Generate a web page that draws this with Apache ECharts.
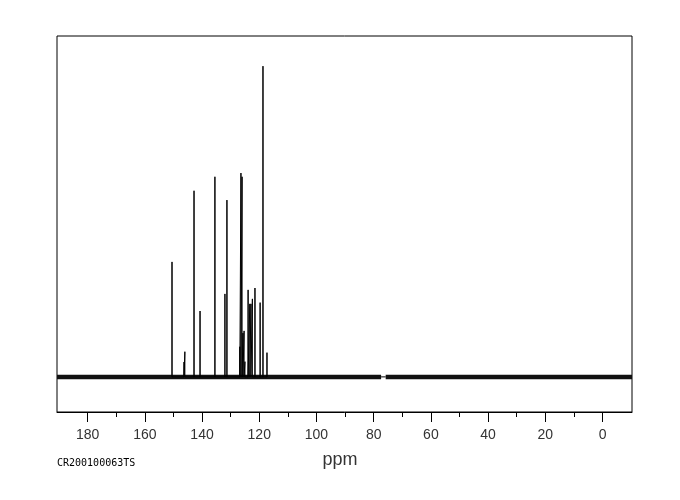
<!DOCTYPE html>
<html>
<head>
<meta charset="utf-8">
<script src="https://cdn.jsdelivr.net/npm/echarts@6/dist/echarts.min.js"></script>
<style>
html,body{margin:0;padding:0;background:#fff;}
#chart{width:680px;height:500px;}
</style>
</head>
<body>
<div id="chart"></div>
<script>
// Peak positions (ppm) and relative intensities (tallest = 100)
var peakPpm = [150.5, 146.3, 146.0, 142.8, 140.7, 135.5, 132.0, 131.3, 126.8, 126.4, 126.0, 125.7, 125.3, 125.0, 123.9, 123.3, 122.9, 122.4, 121.5, 119.7, 118.7, 117.3];
var peakHeight = [37.0, 4.8, 8.1, 59.9, 21.2, 64.4, 26.7, 56.9, 9.7, 65.6, 64.4, 14.1, 14.8, 4.9, 28.0, 23.5, 23.5, 25.1, 28.6, 23.9, 100, 7.8];
// baseline segments (ppm ranges), with the removed solvent region between them
var baselineLeft = [190.7, 77.4];
var baselineRight = [75.8, -10.3];
var gapRange = [77.4, 75.8];
var majorTicks = [0, 20, 40, 60, 80, 100, 120, 140, 160, 180];
var minorTicks = [10, 30, 50, 70, 90, 110, 130, 150, 170];
var xRange = [-10.3, 190.7];
var yRange = [-11.3, 109.7];
var xTitle = 'ppm';
var sampleId = 'CR200100063TS';

var peakData = [];
for (var i = 0; i < peakPpm.length; i++) {
  peakData.push([peakPpm[i], 0]);
  peakData.push([peakPpm[i], peakHeight[i]]);
  peakData.push([peakPpm[i], 0]);
}

var chart = echarts.init(document.getElementById('chart'), null, {renderer: 'canvas'});
var option = {
  animation: false,
  backgroundColor: '#fff',
  grid: {left: 57, right: 48, top: 36, bottom: 88, show: true, borderColor: '#000', borderWidth: 1, backgroundColor: 'transparent'},
  xAxis: [{
    type: 'value', inverse: true, min: xRange[0], max: xRange[1], position: 'bottom',
    axisLine: {show: true, onZero: false, lineStyle: {color: '#000', width: 1}},
    axisTick: {show: true, length: 10, customValues: majorTicks, lineStyle: {color: '#000'}},
    axisLabel: {show: true, customValues: majorTicks, margin: 16, color: '#333', fontFamily: 'Liberation Sans', fontSize: 14},
    splitLine: {show: false}
  }, {
    type: 'value', inverse: true, min: xRange[0], max: xRange[1], position: 'bottom',
    axisLine: {show: false, onZero: false},
    axisTick: {show: true, length: 5, customValues: minorTicks, lineStyle: {color: '#000'}},
    axisLabel: {show: false},
    splitLine: {show: false}
  }],
  yAxis: {
    type: 'value', min: yRange[0], max: yRange[1], show: false
  },
  graphic: [
    {type: 'text', left: 'center', top: 451, style: {text: xTitle, font: '18px "Liberation Sans"', fill: '#333'}},
    {type: 'text', left: 57, top: 458, style: {text: sampleId, font: '10px "DejaVu Sans Mono"', fill: '#000'}}
  ],
  series: [
    {type: 'line', xAxisIndex: 0, data: [[baselineLeft[0], 0], [baselineLeft[1], 0]], symbol: 'none', lineStyle: {color: '#111', width: 4.5}, silent: true},
    {type: 'line', xAxisIndex: 0, data: [[baselineRight[0], 0], [baselineRight[1], 0]], symbol: 'none', lineStyle: {color: '#111', width: 4.5}, silent: true},
    {type: 'line', xAxisIndex: 0, data: [[gapRange[0], 0], [gapRange[1], 0]], symbol: 'none', lineStyle: {color: '#000', width: 1}, silent: true},
    {type: 'line', xAxisIndex: 0, data: peakData, symbol: 'none', lineStyle: {color: '#000', width: 1}, silent: true}
  ]
};
chart.setOption(option);
</script>
</body>
</html>
